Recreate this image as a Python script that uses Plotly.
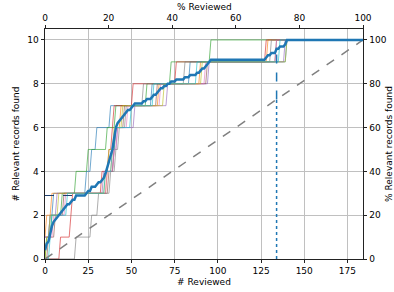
import numpy as np
import plotly.graph_objects as go

N_RECORDS = 184
N_RELEVANT = 10

# record index at which each run found its k-th relevant record (k = 1..10)
run_blue   = [0, 3, 5, 24, 27, 30, 38, 62, 84, 140]
run_orange = [0, 1, 4, 36, 39, 41, 44, 66, 90, 129]
run_green  = [1, 4, 10, 18, 25, 36, 41, 59, 73, 96]
run_red    = [9, 15, 16, 33, 37, 39, 40, 51, 76, 128]
run_purple = [0, 3, 7, 34, 40, 42, 52, 71, 95, 139]
run_brown  = [2, 6, 11, 37, 40, 41, 46, 65, 94, 134]
run_pink   = [0, 5, 12, 36, 40, 42, 48, 67, 93, 134]
run_gray   = [18, 27, 31, 38, 41, 43, 47, 57, 81, 131]
run_olive  = [1, 3, 8, 35, 37, 40, 45, 69, 91, 140]
run_cyan   = [3, 4, 13, 35, 39, 41, 50, 63, 88, 136]

runs = [run_blue, run_orange, run_green, run_red, run_purple,
        run_brown, run_pink, run_gray, run_olive, run_cyan]
colors = ["#1f77b4", "#ff7f0e", "#2ca02c", "#d62728", "#9467bd",
          "#8c564b", "#e377c2", "#7f7f7f", "#bcbd22", "#17becf"]

x = np.arange(0, N_RECORDS + 1)
curves = [np.searchsorted(np.array(r), x, side="right") for r in runs]
mean_curve = np.mean(curves, axis=0)

# WSS@95 and ERF@10 markers derived from the mean curve
x_wss = int(np.argmax(mean_curve >= 0.95 * N_RELEVANT))
y_random_wss = x_wss / N_RECORDS * N_RELEVANT
x_erf = int(round(0.10 * N_RECORDS))
y_erf = mean_curve[x_erf]

fig = go.Figure()
for c, col in zip(curves, colors):
    fig.add_trace(go.Scatter(x=x, y=c, mode="lines", opacity=0.9,
                             line=dict(color=col, width=0.7), showlegend=False))

fig.add_trace(go.Scatter(x=[0, N_RECORDS], y=[0, N_RELEVANT], mode="lines",
                         line=dict(color="#808080", width=1.5, dash="dash"),
                         showlegend=False))
fig.add_trace(go.Scatter(x=x, y=mean_curve, mode="lines",
                         line=dict(color="#1f77b4", width=2.5), showlegend=False))
fig.add_trace(go.Scatter(x=[x_wss, x_wss], y=[0, y_random_wss], mode="lines",
                         line=dict(color="#1f77b4", width=1.5, dash="dot"),
                         showlegend=False))
fig.add_trace(go.Scatter(x=[x_wss, x_wss], y=[y_random_wss, 0.95 * N_RELEVANT], mode="lines",
                         line=dict(color="#1f77b4", width=1.5, dash="dash"),
                         showlegend=False))
fig.add_trace(go.Scatter(x=[0, x_erf], y=[y_erf, y_erf], mode="lines",
                         line=dict(color="#1f3f6e", width=1.2, dash="dash"),
                         showlegend=False))
# invisible trace to anchor the secondary axes
fig.add_trace(go.Scatter(x=[0, 100], y=[0, 105], xaxis="x2", yaxis="y2",
                         mode="markers", marker=dict(opacity=0), showlegend=False,
                         hoverinfo="skip"))

font = dict(family="DejaVu Sans", size=9, color="#000000")
axis_common = dict(showline=True, linecolor="#222222", linewidth=0.8,
                   ticks="outside", ticklen=3.5, tickwidth=0.8, tickcolor="#222222",
                   tickfont=font, zeroline=False, automargin=False)

fig.update_layout(
    width=394, height=292,
    margin=dict(l=45, r=31, t=29, b=33),
    paper_bgcolor="white", plot_bgcolor="white",
    font=font,
    xaxis=dict(range=[0, N_RECORDS], tickvals=[0, 25, 50, 75, 100, 125, 150, 175],
               showgrid=True, gridcolor="#c0c0c0", gridwidth=0.8,
               title=dict(text="# Reviewed", font=font, standoff=3), **axis_common),
    xaxis2=dict(range=[0, 100], tickvals=[0, 20, 40, 60, 80, 100], overlaying="x",
                side="top", showgrid=False, **axis_common),
    yaxis=dict(range=[0, 10.5], tickvals=[0, 2, 4, 6, 8, 10],
               showgrid=True, gridcolor="#c0c0c0", gridwidth=0.8,
               title=dict(text="# Relevant records found", font=font, standoff=6),
               **axis_common),
    yaxis2=dict(range=[0, 105], tickvals=[0, 20, 40, 60, 80, 100], overlaying="y",
                side="right", showgrid=False,
                title=dict(text="% Relevant records found", font=font, standoff=4),
                **axis_common),
)
fig.add_annotation(text="% Reviewed", xref="paper", yref="paper", x=0.5, y=1.0,
                   yshift=22, showarrow=False, font=font, yanchor="middle")

fig.write_html("out.html", config={"displayModeBar": False},
               post_script="document.body.style.margin='0px';")
